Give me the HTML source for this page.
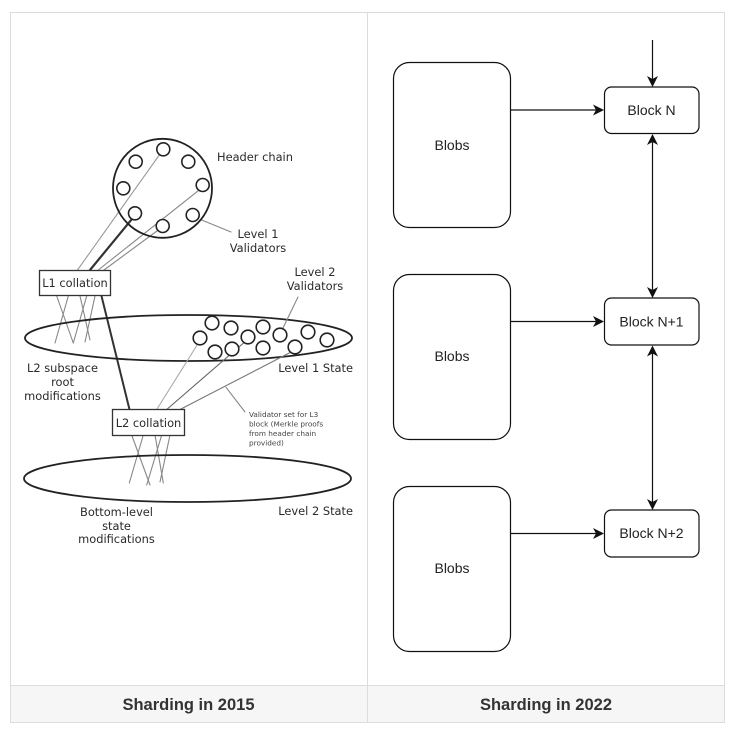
<!DOCTYPE html>
<html><head><meta charset="utf-8"><style>
html,body{margin:0;padding:0;background:#fff;}
svg{display:block;}
</style></head><body>
<svg width="737" height="738" viewBox="0 0 737 738" xmlns="http://www.w3.org/2000/svg">
<rect x="0" y="0" width="737" height="738" fill="#fff"/>
<!-- table -->
<rect x="10.5" y="685.5" width="714" height="37" fill="#f6f6f6"/>
<rect x="10.5" y="12.5" width="714" height="710" fill="none" stroke="#dcdcdc" stroke-width="1"/>
<line x1="367.5" y1="12" x2="367.5" y2="722" stroke="#dcdcdc" stroke-width="1"/>
<line x1="10" y1="685.5" x2="725" y2="685.5" stroke="#dcdcdc" stroke-width="1"/>
<g font-family="'Liberation Sans', Arial, sans-serif" font-weight="bold" font-size="16.5" fill="#333" text-anchor="middle">
<text x="188.5" y="710">Sharding in 2015</text>
<text x="546" y="710">Sharding in 2022</text>
</g>

<!-- LEFT DIAGRAM -->
<g fill="none" stroke-linecap="round">
<line x1="159.3" y1="155" x2="77.5" y2="270" stroke="#9a9a9a" stroke-width="1.1"/>
<line x1="198.3" y1="190.7" x2="98.3" y2="270" stroke="#888" stroke-width="1.1"/>
<line x1="158.3" y1="230" x2="104" y2="270" stroke="#888" stroke-width="1.1"/>
<line x1="131.7" y1="219.3" x2="90" y2="270" stroke="#333" stroke-width="2.2"/>
<line x1="201.7" y1="220" x2="231" y2="232" stroke="#888" stroke-width="1.1"/>
<circle cx="162.5" cy="188.3" r="49.5" stroke="#222" stroke-width="1.8"/>
<g stroke="#222" stroke-width="1.6" fill="#fff">
<circle cx="163.3" cy="149.3" r="6.5"/>
<circle cx="135.7" cy="161.7" r="6.5"/>
<circle cx="188.3" cy="161.7" r="6.5"/>
<circle cx="123.3" cy="188.3" r="6.5"/>
<circle cx="202.7" cy="185" r="6.5"/>
<circle cx="135" cy="213.3" r="6.5"/>
<circle cx="192.7" cy="215" r="6.5"/>
<circle cx="162.7" cy="226" r="6.5"/>
</g>
<g stroke="#888" stroke-width="1.1">
<line x1="56.7" y1="296" x2="73.3" y2="343"/>
<line x1="68.3" y1="296" x2="55" y2="343"/>
<line x1="80" y1="296" x2="90" y2="340"/>
<line x1="86.7" y1="296" x2="73.3" y2="343"/>
<line x1="95" y1="296" x2="85" y2="342"/>
</g>
<line x1="101.5" y1="296" x2="129.5" y2="409.5" stroke="#333" stroke-width="2"/>
<ellipse cx="188.5" cy="338" rx="163.5" ry="23" stroke="#222" stroke-width="1.8"/>
<line x1="199" y1="342" x2="156.7" y2="409.5" stroke="#aaa" stroke-width="1.1"/>
<line x1="247" y1="340" x2="166.7" y2="409.5" stroke="#666" stroke-width="1.1"/>
<line x1="295" y1="350" x2="180" y2="409.5" stroke="#777" stroke-width="1.1"/>
<line x1="298" y1="297" x2="283" y2="328" stroke="#888" stroke-width="1.1"/>
<line x1="226" y1="387.3" x2="245" y2="412" stroke="#888" stroke-width="1.1"/>
<g stroke="#222" stroke-width="1.6" fill="#fff">
<circle cx="212" cy="323" r="6.8"/>
<circle cx="231" cy="328" r="6.8"/>
<circle cx="200" cy="338" r="6.8"/>
<circle cx="248" cy="337" r="6.8"/>
<circle cx="263" cy="327" r="6.8"/>
<circle cx="280" cy="335" r="6.8"/>
<circle cx="308" cy="332" r="6.8"/>
<circle cx="327" cy="340" r="6.8"/>
<circle cx="215" cy="352" r="6.8"/>
<circle cx="232" cy="349" r="6.8"/>
<circle cx="263" cy="348" r="6.8"/>
<circle cx="295" cy="347" r="6.8"/>
</g>
<g stroke="#888" stroke-width="1.1">
<line x1="131.7" y1="435" x2="150" y2="485"/>
<line x1="143.3" y1="435" x2="129.3" y2="483"/>
<line x1="155" y1="435" x2="163.3" y2="483"/>
<line x1="161.7" y1="435" x2="146.7" y2="485"/>
<line x1="170" y1="435" x2="160" y2="482"/>
</g>
<ellipse cx="187.5" cy="478.5" rx="163.5" ry="23.5" stroke="#222" stroke-width="1.8"/>
</g>
<rect x="39.5" y="270.5" width="71" height="25" fill="#fff" stroke="#333" stroke-width="1.3"/>
<rect x="112.5" y="409.5" width="72" height="26" fill="#fff" stroke="#333" stroke-width="1.3"/>
<g font-family="'DejaVu Sans', 'Liberation Sans', sans-serif" font-size="11.4" fill="#2a2a2a">
<text x="75" y="287" text-anchor="middle">L1 collation</text>
<text x="148.5" y="427" text-anchor="middle">L2 collation</text>
<text x="217" y="161">Header chain</text>
<text x="258" y="238" text-anchor="middle">Level 1</text>
<text x="258" y="252" text-anchor="middle">Validators</text>
<text x="315" y="276" text-anchor="middle">Level 2</text>
<text x="315" y="290" text-anchor="middle">Validators</text>
<text x="353" y="372" text-anchor="end">Level 1 State</text>
<text x="62.5" y="372" text-anchor="middle">L2 subspace</text>
<text x="62.5" y="386" text-anchor="middle">root</text>
<text x="62.5" y="400" text-anchor="middle">modifications</text>
<text x="353" y="515" text-anchor="end">Level 2 State</text>
<text x="116.5" y="516" text-anchor="middle">Bottom-level</text>
<text x="116.5" y="530" text-anchor="middle">state</text>
<text x="116.5" y="543" text-anchor="middle">modifications</text>
</g>
<g font-family="'DejaVu Sans', 'Liberation Sans', sans-serif" font-size="7.3" fill="#444">
<text x="249" y="417">Validator set for L3</text>
<text x="249" y="426.5">block (Merkle proofs</text>
<text x="249" y="436">from header chain</text>
<text x="249" y="445.5">provided)</text>
</g>

<!-- RIGHT DIAGRAM -->
<g fill="#fff" stroke="#111" stroke-width="1.2">
<rect x="393.5" y="62.5" width="117" height="165" rx="16" ry="16"/>
<rect x="393.5" y="274.5" width="117" height="165" rx="16" ry="16"/>
<rect x="393.5" y="486.5" width="117" height="165" rx="16" ry="16"/>
<rect x="604.5" y="87" width="94.5" height="46.5" rx="7" ry="7"/>
<rect x="604.5" y="298" width="94.5" height="47" rx="7" ry="7"/>
<rect x="604.5" y="510" width="94.5" height="47" rx="7" ry="7"/>
</g>
<g stroke="#111" stroke-width="1.2" fill="none">
<line x1="511" y1="110" x2="596" y2="110"/>
<line x1="511" y1="321.5" x2="596" y2="321.5"/>
<line x1="511" y1="533.5" x2="596" y2="533.5"/>
<line x1="652.5" y1="40" x2="652.5" y2="80"/>
<line x1="652.5" y1="140" x2="652.5" y2="291"/>
<line x1="652.5" y1="352" x2="652.5" y2="503"/>
</g>
<g fill="#111">
<path d="M604 110 L593 104.5 L596 110 L593 115.5 Z"/>
<path d="M604 321.5 L593 316 L596 321.5 L593 327 Z"/>
<path d="M604 533.5 L593 528 L596 533.5 L593 539 Z"/>
<path d="M652.5 87 L647 76 L652.5 79 L658 76 Z"/>
<path d="M652.5 134 L647 145 L652.5 142 L658 145 Z"/>
<path d="M652.5 298 L647 287 L652.5 290 L658 287 Z"/>
<path d="M652.5 345.5 L647 356.5 L652.5 353.5 L658 356.5 Z"/>
<path d="M652.5 510 L647 499 L652.5 502 L658 499 Z"/>
</g>
<g font-family="'Liberation Sans', Arial, sans-serif" font-size="14" fill="#222" text-anchor="middle">
<text x="452" y="150">Blobs</text>
<text x="452" y="361">Blobs</text>
<text x="452" y="573">Blobs</text>
<text x="651.5" y="115">Block N</text>
<text x="651.5" y="326.5">Block N+1</text>
<text x="651.5" y="538">Block N+2</text>
</g>
</svg>
</body></html>
